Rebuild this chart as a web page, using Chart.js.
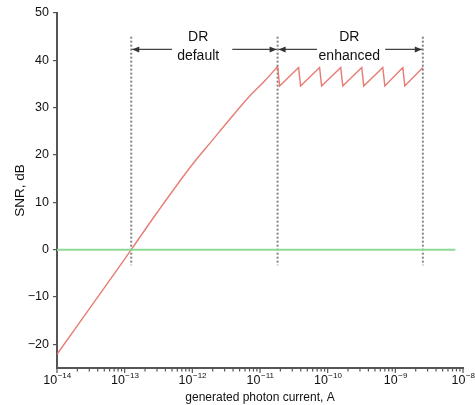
<!DOCTYPE html>
<html>
  <head>
    <meta charset="utf-8" />
    <script src="https://cdn.jsdelivr.net/npm/chart.js"></script>
    <style>
      html, body { margin: 0; padding: 0; background: #fff; }
    </style>
  </head>
  <body>
    <canvas id="snrChart" width="475" height="405"></canvas>
    <script>
      // default range: current (A) vs SNR (dB)
      const rampCurrent = [1e-14, 1e-13, 1.25e-13, 3e-13, 1e-12, 2e-12, 3.5e-12, 7e-12, 1.2e-11, 1.82e-11];
      const rampSnr = [-22.1, -2.0, 0, 7.8, 18.0, 23.2, 27.4, 32.4, 35.8, 38.7];

      // enhanced range: sawtooth
      const sawCurrent = [1.82e-11, 1.95e-11, 3.72e-11, 3.98e-11, 7.6e-11, 8.13e-11, 1.56e-10, 1.67e-10,
        3.19e-10, 3.41e-10, 6.53e-10, 6.99e-10, 1.29e-9, 1.38e-9, 2.55e-9];
      const sawSnr = [38.7, 34.6, 38.5, 34.6, 38.5, 34.6, 38.5, 34.6, 38.5, 34.6, 38.5, 34.6, 38.5, 34.6, 38.5];

      const zeroCurrent = [1e-14, 7.7e-9];
      const zeroSnr = [0, 0];

      // dynamic range limits
      const markerCurrent = [1.25e-13, 1.82e-11, 2.55e-9];
      const markerSnr = [45, -3.3];
      const arrowSnr = 42.3;
      const arrowGaps = [[5.0e-13, 3.9e-12], [6.95e-11, 7.1e-10]];
      const rangeLabels = [["DR", "default"], ["DR", "enhanced"]];
      const rangeLabelCurrent = [1.22e-12, 2.09e-10];
      const rangeLabelSnr = [44.9, 40.9];

      const yTicks = [-20, -10, 0, 10, 20, 30, 40, 50];
      const xExponents = [-14, -13, -12, -11, -10, -9, -8];

      const FONT = '"Liberation Sans", Arial, sans-serif';
      const AXIS = "#555";
      const RED = "rgba(228,110,100,0.9)";

      const pts = (xs, ys) => xs.map((x, i) => ({ x, y: ys[i] }));

      const datasets = [
        {
          data: pts(zeroCurrent, zeroSnr),
          borderColor: "rgb(140,218,150)",
          borderWidth: 2,
        },
        {
          data: pts(rampCurrent, rampSnr),
          borderColor: RED,
          borderWidth: 1.4,
          cubicInterpolationMode: "monotone",
        },
        {
          data: pts(sawCurrent, sawSnr),
          borderColor: RED,
          borderWidth: 1.4,
        },
      ];
      markerCurrent.forEach((c) => {
        datasets.push({
          data: pts([c, c], markerSnr),
          borderColor: "#858585",
          borderWidth: 2,
          borderDash: [2, 2],
        });
      });
      // arrow shafts
      arrowGaps.forEach((gap, i) => {
        const left = markerCurrent[i];
        const right = markerCurrent[i + 1];
        datasets.push({ data: pts([left, gap[0]], [arrowSnr, arrowSnr]), borderColor: "#444", borderWidth: 1.2 });
        datasets.push({ data: pts([gap[1], right], [arrowSnr, arrowSnr]), borderColor: "#444", borderWidth: 1.2 });
      });

      const extras = {
        id: "extras",
        afterDatasetsDraw(chart) {
          const { ctx, scales } = chart;
          const xs = scales.x;
          const ys = scales.y;
          ctx.save();

          // arrowheads
          const ay = ys.getPixelForValue(arrowSnr);
          const head = (px, dir) => {
            ctx.beginPath();
            ctx.moveTo(px, ay);
            ctx.lineTo(px - dir * 7, ay - 3);
            ctx.lineTo(px - dir * 7, ay + 3);
            ctx.closePath();
            ctx.fill();
          };
          ctx.fillStyle = "#333";
          arrowGaps.forEach((gap, i) => {
            head(xs.getPixelForValue(markerCurrent[i]) + 1, -1);
            head(xs.getPixelForValue(markerCurrent[i + 1]) - 1, 1);
          });

          // range labels
          ctx.fillStyle = "#111";
          ctx.font = "14px " + FONT;
          ctx.textAlign = "center";
          ctx.textBaseline = "middle";
          rangeLabels.forEach((lines, i) => {
            const px = xs.getPixelForValue(rangeLabelCurrent[i]);
            lines.forEach((t, j) => ctx.fillText(t, px, ys.getPixelForValue(rangeLabelSnr[j])));
          });

          // x ticks (outward) and 10^n labels
          const base = xs.top + 1;
          ctx.strokeStyle = AXIS;
          ctx.lineWidth = 1.2;
          xExponents.forEach((e, k) => {
            const px = xs.getPixelForValue(Math.pow(10, e));
            ctx.beginPath();
            ctx.moveTo(px, base);
            ctx.lineTo(px, base + 4);
            ctx.stroke();
            if (k < xExponents.length - 1) {
              for (let m = 2; m <= 9; m++) {
                const mx = xs.getPixelForValue(m * Math.pow(10, e));
                ctx.beginPath();
                ctx.moveTo(mx, base);
                ctx.lineTo(mx, base + 2.5);
                ctx.stroke();
              }
            }
            const sup = "\u2212" + String(-e);
            ctx.font = "12.5px " + FONT;
            const w1 = ctx.measureText("10").width;
            ctx.font = "8px " + FONT;
            const w2 = ctx.measureText(sup).width;
            const x0 = px - (w1 + w2) / 2;
            ctx.fillStyle = "#111";
            ctx.textAlign = "left";
            ctx.font = "12.5px " + FONT;
            ctx.fillText("10", x0, xs.top + 13);
            ctx.font = "8px " + FONT;
            ctx.fillText(sup, x0 + w1 + 0.5, xs.top + 8);
          });
          ctx.restore();
        },
      };

      new Chart(document.getElementById("snrChart"), {
        type: "line",
        data: { datasets },
        options: {
          responsive: false,
          animation: false,
          devicePixelRatio: 1,
          layout: { padding: { top: 13, right: 12, left: 0, bottom: 0 } },
          elements: { point: { radius: 0 }, line: { tension: 0 } },
          plugins: { legend: { display: false }, tooltip: { enabled: false } },
          scales: {
            x: {
              type: "logarithmic",
              min: 1e-14,
              max: 1e-8,
              afterBuildTicks: (scale) => {
                scale.ticks = xExponents.map((e) => ({ value: Math.pow(10, e), major: true }));
              },
              afterFit: (scale) => { scale.height = 37; },
              grid: { display: false },
              border: { display: true, color: AXIS, width: 2 },
              ticks: { display: false },
              title: {
                display: true,
                text: "generated photon current, A",
                color: "#111",
                font: { family: FONT, size: 12 },
                padding: { top: 0, bottom: 0 },
              },
            },
            y: {
              min: -25,
              max: 50,
              afterBuildTicks: (scale) => {
                scale.ticks = yTicks.map((v) => ({ value: v }));
              },
              afterFit: (scale) => { scale.width = 57; },
              grid: { drawOnChartArea: false, drawTicks: true, tickLength: 4, color: AXIS, lineWidth: 1.2 },
              border: { display: true, color: AXIS, width: 2 },
              ticks: {
                padding: 4,
                color: "#111",
                font: { family: FONT, size: 12.5 },
                callback: (v) => String(v).replace("-", "\u2212"),
              },
              title: {
                display: true,
                text: "SNR, dB",
                color: "#111",
                font: { family: FONT, size: 13.5 },
                padding: { top: 12, bottom: 0 },
              },
            },
          },
        },
        plugins: [extras],
      });
    </script>
  </body>
</html>
